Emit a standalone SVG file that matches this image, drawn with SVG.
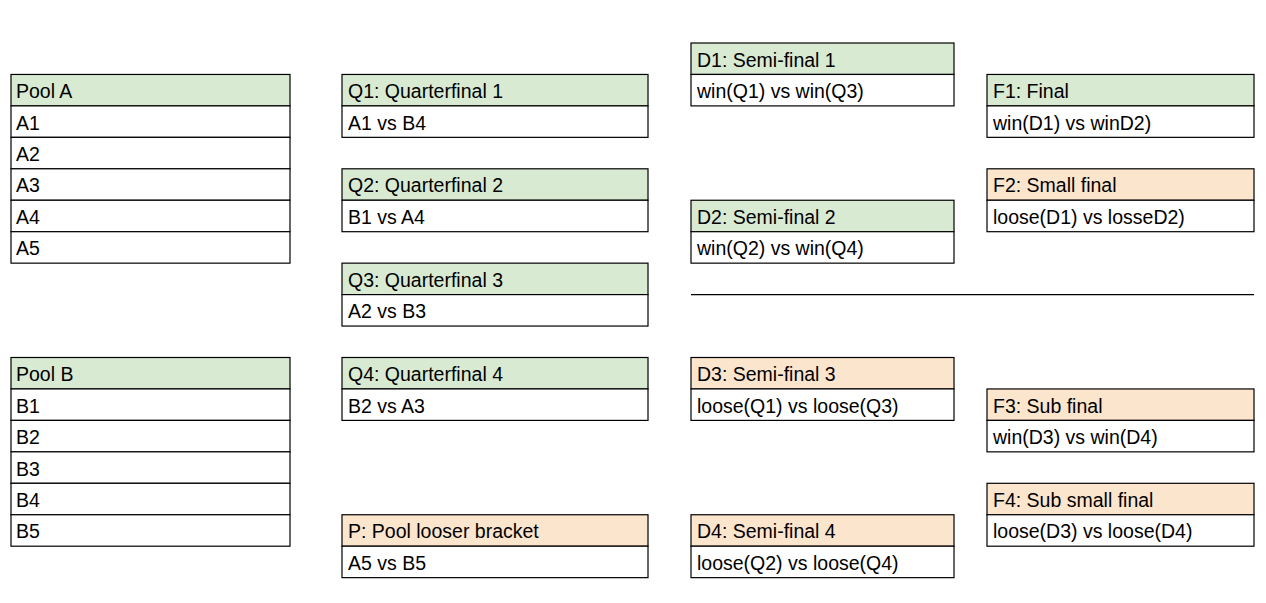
<svg xmlns="http://www.w3.org/2000/svg" width="1266" height="603" viewBox="0 0 1266 603">
<style>
rect{stroke:#000;stroke-width:1.2}
.g{fill:#d9ead3}
.o{fill:#fce5cd}
.w{fill:#fff}
text{font-family:"Liberation Sans",Arial,sans-serif;font-size:19.5px;fill:#000}
.sep{stroke:#000;stroke-width:1.2}
</style>
<g id="poolA">
<rect class="g" x="11" y="74.45" width="279" height="31.45"/>
<rect class="w" x="11" y="105.9" width="279" height="31.45"/>
<rect class="w" x="11" y="137.35" width="279" height="31.45"/>
<rect class="w" x="11" y="168.8" width="279" height="31.45"/>
<rect class="w" x="11" y="200.25" width="279" height="31.45"/>
<rect class="w" x="11" y="231.7" width="279" height="31.45"/>
<text x="16" y="98">Pool A</text>
<text x="16" y="129.5">A1</text>
<text x="16" y="161">A2</text>
<text x="16" y="192.4">A3</text>
<text x="16" y="223.9">A4</text>
<text x="16" y="255.3">A5</text>
</g>
<g id="poolB">
<rect class="g" x="11" y="357.5" width="279" height="31.45"/>
<rect class="w" x="11" y="388.95" width="279" height="31.45"/>
<rect class="w" x="11" y="420.4" width="279" height="31.45"/>
<rect class="w" x="11" y="451.85" width="279" height="31.45"/>
<rect class="w" x="11" y="483.3" width="279" height="31.45"/>
<rect class="w" x="11" y="514.75" width="279" height="31.45"/>
<text x="16" y="381.1">Pool B</text>
<text x="16" y="412.6">B1</text>
<text x="16" y="444">B2</text>
<text x="16" y="475.5">B3</text>
<text x="16" y="506.9">B4</text>
<text x="16" y="538.4">B5</text>
</g>
<g id="Q1">
<rect class="g" x="342" y="74.45" width="306" height="31.45"/>
<rect class="w" x="342" y="105.9" width="306" height="31.45"/>
<text x="348" y="98">Q1: Quarterfinal 1</text>
<text x="348" y="129.5">A1 vs B4</text>
</g>
<g id="Q2">
<rect class="g" x="342" y="168.8" width="306" height="31.45"/>
<rect class="w" x="342" y="200.25" width="306" height="31.45"/>
<text x="348" y="192.4">Q2: Quarterfinal 2</text>
<text x="348" y="223.9">B1 vs A4</text>
</g>
<g id="Q3">
<rect class="g" x="342" y="263.15" width="306" height="31.45"/>
<rect class="w" x="342" y="294.6" width="306" height="31.45"/>
<text x="348" y="286.8">Q3: Quarterfinal 3</text>
<text x="348" y="318.2">A2 vs B3</text>
</g>
<g id="Q4">
<rect class="g" x="342" y="357.5" width="306" height="31.45"/>
<rect class="w" x="342" y="388.95" width="306" height="31.45"/>
<text x="348" y="381.1">Q4: Quarterfinal 4</text>
<text x="348" y="412.6">B2 vs A3</text>
</g>
<g id="P">
<rect class="o" x="342" y="514.75" width="306" height="31.45"/>
<rect class="w" x="342" y="546.2" width="306" height="31.45"/>
<text x="348" y="538.4">P: Pool looser bracket</text>
<text x="348" y="569.8">A5 vs B5</text>
</g>
<g id="D1">
<rect class="g" x="691" y="43" width="263" height="31.45"/>
<rect class="w" x="691" y="74.45" width="263" height="31.45"/>
<text x="697" y="66.6">D1: Semi-final 1</text>
<text x="697" y="98">win(Q1) vs win(Q3)</text>
</g>
<g id="D2">
<rect class="g" x="691" y="200.25" width="263" height="31.45"/>
<rect class="w" x="691" y="231.7" width="263" height="31.45"/>
<text x="697" y="223.9">D2: Semi-final 2</text>
<text x="697" y="255.3">win(Q2) vs win(Q4)</text>
</g>
<g id="D3">
<rect class="o" x="691" y="357.5" width="263" height="31.45"/>
<rect class="w" x="691" y="388.95" width="263" height="31.45"/>
<text x="697" y="381.1">D3: Semi-final 3</text>
<text x="697" y="412.6">loose(Q1) vs loose(Q3)</text>
</g>
<g id="D4">
<rect class="o" x="691" y="514.75" width="263" height="31.45"/>
<rect class="w" x="691" y="546.2" width="263" height="31.45"/>
<text x="697" y="538.4">D4: Semi-final 4</text>
<text x="697" y="569.8">loose(Q2) vs loose(Q4)</text>
</g>
<g id="F1">
<rect class="g" x="987" y="74.45" width="267" height="31.45"/>
<rect class="w" x="987" y="105.9" width="267" height="31.45"/>
<text x="993" y="98">F1: Final</text>
<text x="993" y="129.5">win(D1) vs winD2)</text>
</g>
<g id="F2">
<rect class="o" x="987" y="168.8" width="267" height="31.45"/>
<rect class="w" x="987" y="200.25" width="267" height="31.45"/>
<text x="993" y="192.4">F2: Small final</text>
<text x="993" y="223.9">loose(D1) vs losseD2)</text>
</g>
<g id="F3">
<rect class="o" x="987" y="388.95" width="267" height="31.45"/>
<rect class="w" x="987" y="420.4" width="267" height="31.45"/>
<text x="993" y="412.6">F3: Sub final</text>
<text x="993" y="444">win(D3) vs win(D4)</text>
</g>
<g id="F4">
<rect class="o" x="987" y="483.3" width="267" height="31.45"/>
<rect class="w" x="987" y="514.75" width="267" height="31.45"/>
<text x="993" y="506.9">F4: Sub small final</text>
<text x="993" y="538.4">loose(D3) vs loose(D4)</text>
</g>
<g id="connectors">
<line class="sep" x1="691" y1="294.6" x2="1254" y2="294.6"/>
</g>
</svg>
